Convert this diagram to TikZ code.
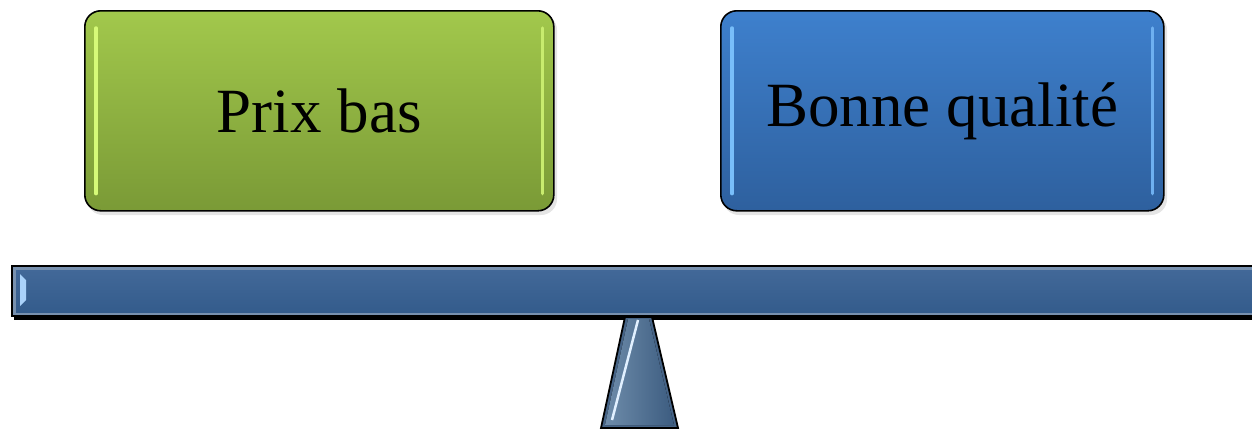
\documentclass[tikz,border=0pt]{standalone}
\usepackage{fontspec}
\setmainfont{Liberation Serif}
\begin{document}
\begin{tikzpicture}[x=1pt,y=-1pt,
  box/.style={draw=black,line width=1.6pt,rounded corners=16pt,minimum width=#1,minimum height=200pt,inner sep=0pt,font=\fontsize{63}{70}\selectfont,text=black},
  hl/.style={line width=3.5pt,line cap=round}]
\useasboundingbox (0,0) rectangle (1252,432);
% shadows
\fill[black!10,rounded corners=16pt] (87,14) rectangle (557,215);
\fill[black!10,rounded corners=16pt] (723,14) rectangle (1167,215);
% boxes
\node[box=469pt,top color={rgb,255:red,162;green,200;blue,76},bottom color={rgb,255:red,122;green,154;blue,54},anchor=north west] (prix) at (84,10) {Prix bas};
\node[box=443pt,top color={rgb,255:red,62;green,128;blue,205},bottom color={rgb,255:red,46;green,96;blue,158},anchor=north west] (qual) at (720,10) {Bonne qualité};
% highlights
\draw[hl,color={rgb,255:red,214;green,250;blue,120}] ([xshift=12pt,yshift=-18pt]prix.north west) -- ([xshift=12pt,yshift=18pt]prix.south west);
\draw[hl,color={rgb,255:red,200;green,236;blue,110}] ([xshift=-12pt,yshift=-18pt]prix.north east) -- ([xshift=-12pt,yshift=18pt]prix.south east);
\draw[hl,color={rgb,255:red,120;green,190;blue,250}] ([xshift=12pt,yshift=-18pt]qual.north west) -- ([xshift=12pt,yshift=18pt]qual.south west);
\draw[hl,color={rgb,255:red,110;green,176;blue,240}] ([xshift=-12pt,yshift=-18pt]qual.north east) -- ([xshift=-12pt,yshift=18pt]qual.south east);
% beam
\fill[black] (14,268) rectangle (1252,320);
\coordinate (bl) at (12,266);
\coordinate (br) at (1254,316);
\draw[line width=1.6pt,fill={rgb,255:red,120;green,145;blue,175}] (bl) rectangle (br);
\fill[top color={rgb,255:red,66;green,104;blue,152},bottom color={rgb,255:red,52;green,92;blue,140}] (16,270) rectangle (1254,312);
\fill[color={rgb,255:red,170;green,210;blue,250}] (20,274) -- (26,280) -- (26,300) -- (20,306) -- cycle;
% fulcrum
\coordinate (ft) at (638,317);
\draw[line width=1.8pt,fill={rgb,255:red,70;green,100;blue,135}] (625,317) -- (652,317) -- (678,428) -- (601,428) -- cycle;
\fill[left color={rgb,255:red,110;green,140;blue,170},right color={rgb,255:red,60;green,92;blue,128}] (628,319) -- (649,319) -- (674,425) -- (605,425) -- cycle;
\draw[line width=2.5pt,color={rgb,255:red,225;green,240;blue,255}] (638,320) -- (612,420);
\end{tikzpicture}
\end{document}
